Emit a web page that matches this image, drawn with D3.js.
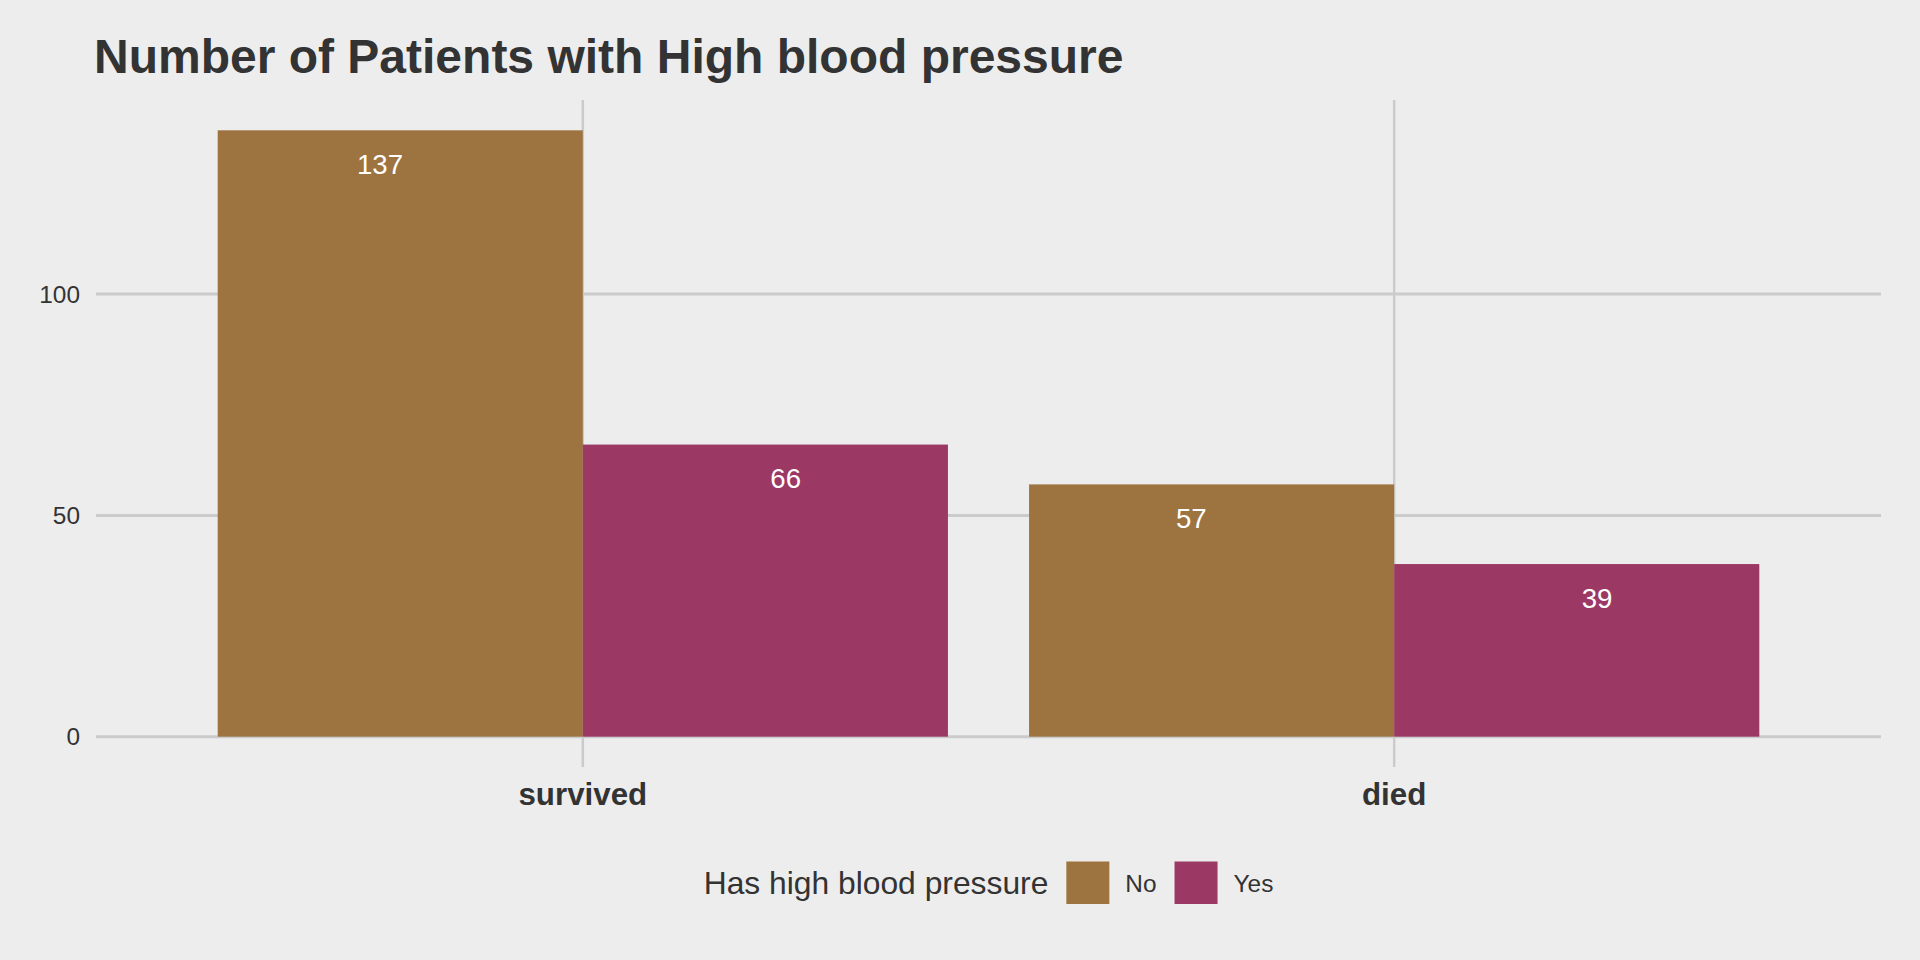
<!DOCTYPE html>
<html>
<head>
<meta charset="utf-8">
<script src="https://cdn.jsdelivr.net/npm/d3@7"></script>
<style>
  html, body { margin: 0; padding: 0; background: #EDEDED; }
  svg { display: block; }
  text { font-family: "Liberation Sans", Arial, Helvetica, sans-serif; }
</style>
</head>
<body>
<script>
// ---- data ----
const categories = ["survived", "died"];
const groups = ["No", "Yes"];
const noValues = [137, 57];
const yesValues = [66, 39];
const yTicks = [0, 50, 100];
const groupColors = ["#9D7340", "#9B3863"];
const titleText = "Number of Patients with High blood pressure";
const legendTitle = "Has high blood pressure";

const W = 1920, H = 960;
const panel = { left: 96, right: 1881, top: 100, bottom: 767 };

const svg = d3.select("body").append("svg").attr("width", W).attr("height", H);
svg.append("rect").attr("width", W).attr("height", H).attr("fill", "#EDEDED");

const rows = [];
categories.forEach((c, i) => {
  rows.push({ cat: c, group: "No", value: noValues[i], gi: 0 });
  rows.push({ cat: c, group: "Yes", value: yesValues[i], gi: 1 });
});

const maxV = d3.max(rows, d => d.value);
const y = d3.scaleLinear()
  .domain([0 - 0.05 * maxV, maxV * 1.05])
  .range([panel.bottom, panel.top]);

// discrete x: categories at 1..n, expand 0.6 each side
const xCont = d3.scaleLinear()
  .domain([1 - 0.6, categories.length + 0.6])
  .range([panel.left, panel.right]);
const unit = xCont(2) - xCont(1);
const xCat = c => xCont(categories.indexOf(c) + 1);

const gridColor = "#CBCBCB";

// horizontal grid lines
svg.append("g").selectAll("line").data(yTicks).join("line")
  .attr("x1", panel.left).attr("x2", panel.right)
  .attr("y1", d => y(d)).attr("y2", d => y(d))
  .attr("stroke", gridColor).attr("stroke-width", 3);

// vertical grid lines
svg.append("g").selectAll("line").data(categories).join("line")
  .attr("x1", d => xCat(d)).attr("x2", d => xCat(d))
  .attr("y1", panel.top).attr("y2", panel.bottom)
  .attr("stroke", gridColor).attr("stroke-width", 2.5);

// bars (dodge width 0.9)
const barW = 0.45 * unit;
svg.append("g").selectAll("rect").data(rows).join("rect")
  .attr("x", d => xCat(d.cat) + (d.gi === 0 ? -barW : 0))
  .attr("width", barW)
  .attr("y", d => y(d.value))
  .attr("height", d => y(0) - y(d.value))
  .attr("fill", d => groupColors[d.gi]);

// value labels (dodge width 1.0)
svg.append("g").selectAll("text").data(rows).join("text")
  .attr("x", d => xCat(d.cat) + (d.gi === 0 ? -0.25 : 0.25) * unit)
  .attr("y", d => y(d.value) + 43.5)
  .attr("text-anchor", "middle")
  .attr("fill", "#FFFFFF")
  .attr("font-size", "27.6px")
  .text(d => d.value);

// y axis labels
svg.append("g").selectAll("text").data(yTicks).join("text")
  .attr("x", 80)
  .attr("y", d => y(d) + 8.8)
  .attr("text-anchor", "end")
  .attr("fill", "#333333")
  .attr("font-size", "24.4px")
  .text(d => d);

// x axis labels
svg.append("g").selectAll("text").data(categories).join("text")
  .attr("x", d => xCat(d))
  .attr("y", 805)
  .attr("text-anchor", "middle")
  .attr("fill", "#333333")
  .attr("font-size", "31.3px")
  .attr("font-weight", "bold")
  .text(d => d);

// title
svg.append("text")
  .attr("x", 94).attr("y", 73.3)
  .attr("fill", "#333333")
  .attr("font-size", "48px")
  .attr("font-weight", "bold")
  .text(titleText);

// legend
const lg = svg.append("g");
const legCY = 883;
const keySize = 43;
const lt = lg.append("text")
  .attr("font-size", "31.8px").attr("fill", "#333333")
  .attr("y", legCY + 0.36 * 31.8)
  .text(legendTitle);
let cx = 0;
lt.attr("x", cx);
cx += lt.node().getComputedTextLength() + 18;
groups.forEach((g, i) => {
  lg.append("rect").attr("x", cx).attr("y", legCY - 21.5)
    .attr("width", keySize).attr("height", 42.5)
    .attr("fill", groupColors[i]);
  cx += keySize + 16;
  const t = lg.append("text")
    .attr("x", cx).attr("y", legCY + 0.36 * 24.4)
    .attr("font-size", "24.4px").attr("fill", "#333333")
    .text(g);
  cx += t.node().getComputedTextLength() + (i < groups.length - 1 ? 18 : 0);
});
const centerX = (panel.left + panel.right) / 2;
lg.attr("transform", `translate(${centerX - cx / 2},0)`);
</script>
</body>
</html>
